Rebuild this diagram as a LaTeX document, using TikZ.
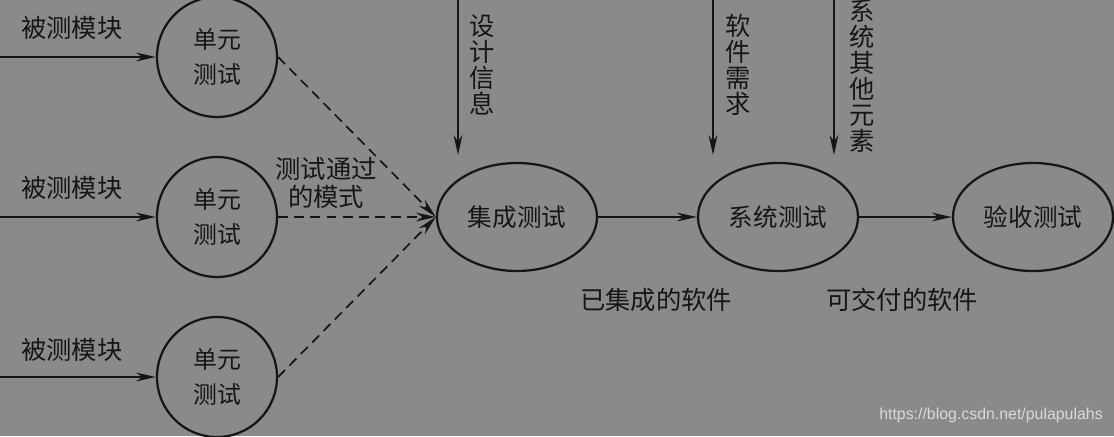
\documentclass[tikz,border=0pt]{standalone}
\usepackage{fontspec}
\newfontfamily\cjk{Noto Sans CJK SC}
\newfontfamily\wmfont{Liberation Sans}
\usepackage{xcolor}
\definecolor{bggray}{RGB}{138,138,138}
\definecolor{inkgray}{RGB}{22,22,22}
\definecolor{wmgray}{RGB}{218,218,218}
\usetikzlibrary{arrows.meta, shapes.geometric}
\tikzset{
  unitnode/.style={draw=inkgray, circle, line width=1.6pt, minimum size=3cm, inner sep=0pt, align=center, text=inkgray, font=\cjk\fontsize{17}{25}\selectfont},
  stagenode/.style={draw=inkgray, ellipse, line width=1.6pt, minimum width=4cm, minimum height=2.7cm, inner sep=0pt, text=inkgray, font=\cjk\fontsize{17.5}{20}\selectfont},
  flow/.style={draw=inkgray, line width=1.2pt, -{Stealth[length=5mm, width=2.2mm]}},
  passflow/.style={flow, dash pattern=on 7pt off 4.5pt},
  lbl/.style={text=inkgray, align=center, font=\cjk\fontsize{18}{20.5}\selectfont},
  vlbl/.style={text=inkgray, align=center, font=\cjk\fontsize{18}{18.5}\selectfont}
}
\begin{document}
\begin{tikzpicture}
  % Background
  \fill[bggray] (0,0) rectangle (27.85,10.9);
  \useasboundingbox (0,0) rectangle (27.85,10.9);
  \clip (0,0) rectangle (27.85,10.9);

  % Unit tests
  \node[unitnode] (unit1) at (5.425,9.475) {单元\\测试};
  \node[unitnode] (unit2) at (5.425,5.475) {单元\\测试};
  \node[unitnode] (unit3) at (5.425,1.475) {单元\\测试};

  % Modules under test
  \foreach \i/\y/\ly in {1/9.475/10.2, 2/5.475/6.2, 3/1.475/2.15} {
    \coordinate (in\i) at (0,\y);
    \node[lbl] (mod\i) at (1.8,\ly) {被测模块};
    \draw[flow] (in\i) -- (unit\i);
  }

  % Test stages
  \node[stagenode] (integ) at (12.925,5.475) {集成测试};
  \node[stagenode] (systest) at (19.45,5.475) {系统测试};
  \node[stagenode] (accept) at (25.825,5.475) {验收测试};

  % Passed modules
  \draw[passflow] (unit1.east) -- (integ.west);
  \draw[passflow] (unit2.east) -- (integ.west);
  \draw[passflow] (unit3.east) -- (integ.west);
  \node[lbl] (passlbl) at (8.15,6.325) {测试通过\\的模式};

  % Stage flow
  \draw[flow] (integ) -- (systest);
  \draw[flow] (systest) -- (accept);
  \node[lbl] (integsw) at (16.4,3.4) {已集成的软件};
  \node[lbl] (delivsw) at (22.55,3.4) {可交付的软件};

  % Inputs from above
  \coordinate (designtop) at (11.45,10.9);
  \coordinate (designend) at (11.45,7.025);
  \draw[flow] (designtop) -- (designend);
  \node[vlbl] (design) at (12.05,9.275) {设\\计\\信\\息};

  \coordinate (reqtop) at (17.825,10.9);
  \coordinate (reqend) at (17.825,7.025);
  \draw[flow] (reqtop) -- (reqend);
  \node[vlbl] (req) at (18.45,9.275) {软\\件\\需\\求};

  \coordinate (othertop) at (20.85,10.9);
  \coordinate (otherend) at (20.85,7.025);
  \draw[flow] (othertop) -- (otherend);
  \node[vlbl] (other) at (21.55,9.0) {系\\统\\其\\他\\元\\素};

  % Watermark
  \node[text=wmgray, font=\wmfont\fontsize{11.3}{13}\selectfont] (wm) at (24.775,0.525) {https://blog.csdn.net/pulapulahs};
\end{tikzpicture}
\end{document}
